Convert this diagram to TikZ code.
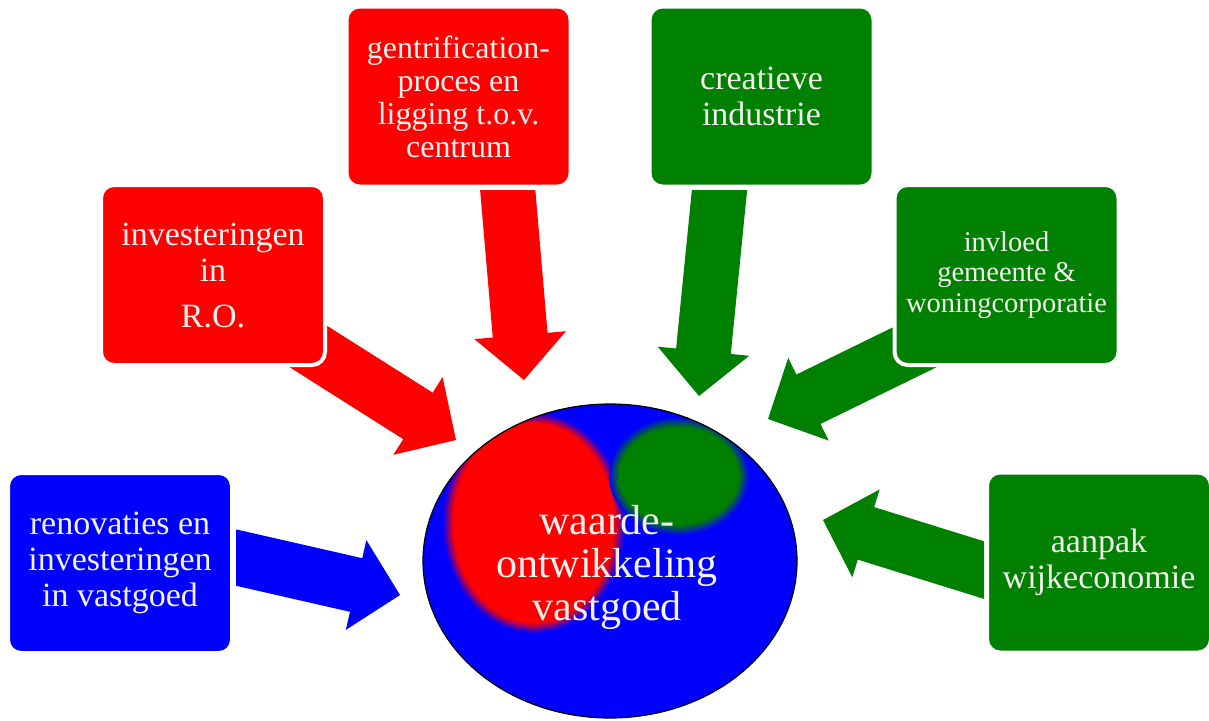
\documentclass[tikz,border=0pt]{standalone}
\usepackage{fontspec}
\setmainfont{Liberation Serif}
\usetikzlibrary{calc,shapes.geometric}
\definecolor{cred}{RGB}{255,0,0}
\definecolor{cgreen}{RGB}{0,128,0}
\definecolor{cblue}{RGB}{0,0,255}
\definecolor{ctext}{RGB}{244,242,238}
\newcommand\blockarrow[3]{%
  \coordinate (#3n) at ($(#3)!45pt!(#2)$);
  \fill[#1] ($(#2)!27.5pt!90:(#3)$) -- ($(#3n)!27.5pt!90:(#3)$) -- ($(#3n)!46pt!90:(#3)$) -- (#3)
    -- ($(#3n)!46pt!-90:(#3)$) -- ($(#3n)!27.5pt!-90:(#3)$) -- ($(#2)!27.5pt!-90:(#3)$) -- cycle;}
\begin{document}
\begin{tikzpicture}[x=1pt,y=-1pt,
  box/.style={rectangle, rounded corners=13pt, draw=white, line width=4pt,
    minimum width=224pt, minimum height=180pt, text=ctext, align=center, inner sep=0pt,
    font=\fontsize{34}{36}\selectfont},
  bigell/.style={ellipse, fill=cblue, draw=black, line width=1.2pt,
    minimum width=374pt, minimum height=314pt, inner sep=0pt},
  lbl/.style={text=ctext, align=center, font=\fontsize{42}{43}\selectfont}]
\useasboundingbox (0,0) rectangle (1209,720);

% arrows
\coordinate (tB) at (216,553); \coordinate (hB) at (400,595);
\begin{scope}\clip (236,0) rectangle (1209,720); \blockarrow{cblue}{tB}{hB} \end{scope}
\coordinate (tR) at (287,333); \coordinate (hR) at (456,440);
\blockarrow{cred}{tR}{hR}
\coordinate (tG) at (506,170); \coordinate (hG) at (524,380);
\begin{scope}\clip (0,190) rectangle (1209,720); \blockarrow{cred}{tG}{hG} \end{scope}
\coordinate (tC) at (721.5,170); \coordinate (hC) at (699,396);
\begin{scope}\clip (0,190) rectangle (1209,720); \blockarrow{cgreen}{tC}{hC} \end{scope}
\coordinate (tI) at (948,331); \coordinate (hI) at (768,419);
\blockarrow{cgreen}{tI}{hI}
\coordinate (tA) at (1003,576); \coordinate (hA) at (823,520);
\begin{scope}\clip (0,0) rectangle (984,720); \blockarrow{cgreen}{tA}{hA} \end{scope}

% boxes
\node[box, fill=cblue] (ren) at (120,563) {renovaties en\\investeringen\\in vastgoed};
\node[box, fill=cred] (ro) at (213,275) {investeringen\\in\\[10pt]R.O.};
\node[box, fill=cred, font=\fontsize{32}{33}\selectfont] (gen) at (458.5,96.5) {gentrification-\\proces en\\ligging t.o.v.\\centrum};
\node[box, fill=cgreen] (cre) at (761.5,96.5) {creatieve\\industrie};
\node[box, fill=cgreen, font=\fontsize{28.5}{30.5}\selectfont] (inv) at (1006.5,275) {invloed\\gemeente \&\\woningcorporatie};
\node[box, fill=cgreen] (aan) at (1099,562.5) {aanpak\\wijkeconomie};

% central ellipse
\node[bigell, path picture={
  \foreach \o/\c in {5/12,3/30,1/50,-1/68,-3/85,-5/100} {
    \fill[cred!\c!cblue] ($(path picture bounding box.center)+(-76,-38)$) ellipse [x radius={86+\o}, y radius={105+\o}];
  }
  \foreach \o/\c in {5/12,3/30,1/50,-1/68,-3/85,-5/100} {
    \fill[cgreen!\c!cblue] ($(path picture bounding box.center)+(69,-85)$) ellipse [x radius={65+\o}, y radius={54+\o}];
  }
}] (ell) at (610,561) {};
\node[lbl] (elltext) at ($(ell.center)+(-3,6)$) {waarde-\\ontwikkeling\\vastgoed};
\end{tikzpicture}
\end{document}
